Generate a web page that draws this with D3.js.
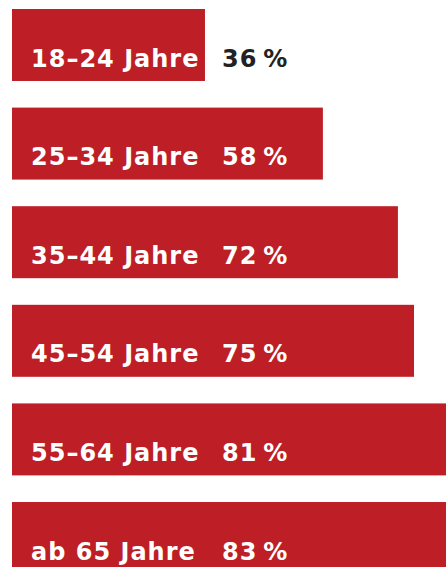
<!DOCTYPE html>
<html>
<head>
<meta charset="utf-8">
<script src="https://cdn.jsdelivr.net/npm/d3@7"></script>
<style>
  html, body { margin: 0; padding: 0; background: #fff; overflow: hidden; }
  svg { display: block; }
</style>
</head>
<body>
<div class="chart"></div>
<script>
const groups = ["18–24 Jahre", "25–34 Jahre", "35–44 Jahre", "45–54 Jahre", "55–64 Jahre", "ab 65 Jahre"];
const shares = [36, 58, 72, 75, 81, 83];

const width = 446;
const height = 567;
const red = "#be1e25";

const svg = d3
  .select(".chart")
  .append("svg")
  .attr("width", width)
  .attr("height", height);

const x = d3.scaleLinear().domain([0, 100]).range([12, 548]);
const y = d3.scaleBand().domain(groups).range([9, 574]).paddingInner(0.27).paddingOuter(0);

const data = groups.map((g, i) => ({ group: g, value: shares[i] }));

const rows = svg
  .selectAll("g.row")
  .data(data)
  .join("g")
  .attr("class", "row")
  .attr("transform", (d) => `translate(0,${y(d.group)})`);

rows
  .append("rect")
  .attr("x", x(0))
  .attr("width", (d) => x(d.value) - x(0))
  .attr("height", y.bandwidth())
  .attr("fill", red);

const font = "'DejaVu Sans', Verdana, sans-serif";

rows
  .append("text")
  .attr("x", 31)
  .attr("y", 57.7)
  .attr("font-family", font)
  .attr("font-weight", "bold")
  .attr("font-size", 24)
  .attr("letter-spacing", 1)
  .attr("fill", "#fff")
  .text((d) => d.group);

// percent label, dark when it falls outside the bar
rows
  .append("text")
  .attr("x", 222)
  .attr("y", 57.7)
  .attr("font-family", font)
  .attr("font-weight", "bold")
  .attr("font-size", 24)
  .attr("letter-spacing", 1)
  .attr("fill", (d) => (x(d.value) > 290 ? "#fff" : "#222"))
  .text((d) => d.value + "\u2009%");
</script>
</body>
</html>
